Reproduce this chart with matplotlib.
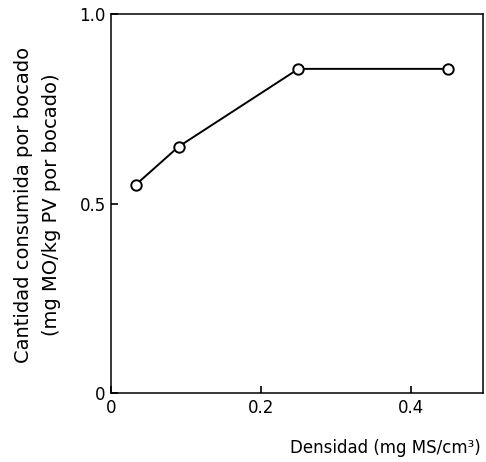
import matplotlib.pyplot as plt

# densidad del forraje y cantidad consumida por bocado
densidad = [0.033, 0.09, 0.25, 0.45]
consumo = [0.55, 0.65, 0.855, 0.855]

xticks = [0, 0.2, 0.4]
xticklabels = ['0', '0.2', '0.4']
yticks = [0, 0.5, 1.0]
yticklabels = ['0', '0.5', '1.0']

fig = plt.figure(figsize=(4.86, 4.62), dpi=100)
ax = fig.add_axes([0.229, 0.149, 0.764, 0.821])

ax.plot(densidad, consumo, '-o', color='black', lw=1.4,
        markerfacecolor='white', markeredgecolor='black',
        markersize=7.5, markeredgewidth=1.4)

ax.set_xlim(0, 0.496)
ax.set_ylim(0, 1.0)
ax.set_xticks(xticks)
ax.set_xticklabels(xticklabels)
ax.set_yticks(yticks)
ax.set_yticklabels(yticklabels)
ax.tick_params(direction='in', length=5, width=1.2, labelsize=12, pad=4)

for s in ax.spines.values():
    s.set_linewidth(1.1)

ax.set_ylabel('Cantidad consumida por bocado\n(mg MO/kg PV por bocado)',
              fontsize=14, linespacing=1.6, va='center')
ax.yaxis.set_label_coords(-0.2, 0.496)
ax.set_xlabel('Densidad (mg MS/cm³)', fontsize=12, va='center')
ax.xaxis.set_label_coords(0.739, -0.145)

fig.savefig('out.png', dpi=100)
